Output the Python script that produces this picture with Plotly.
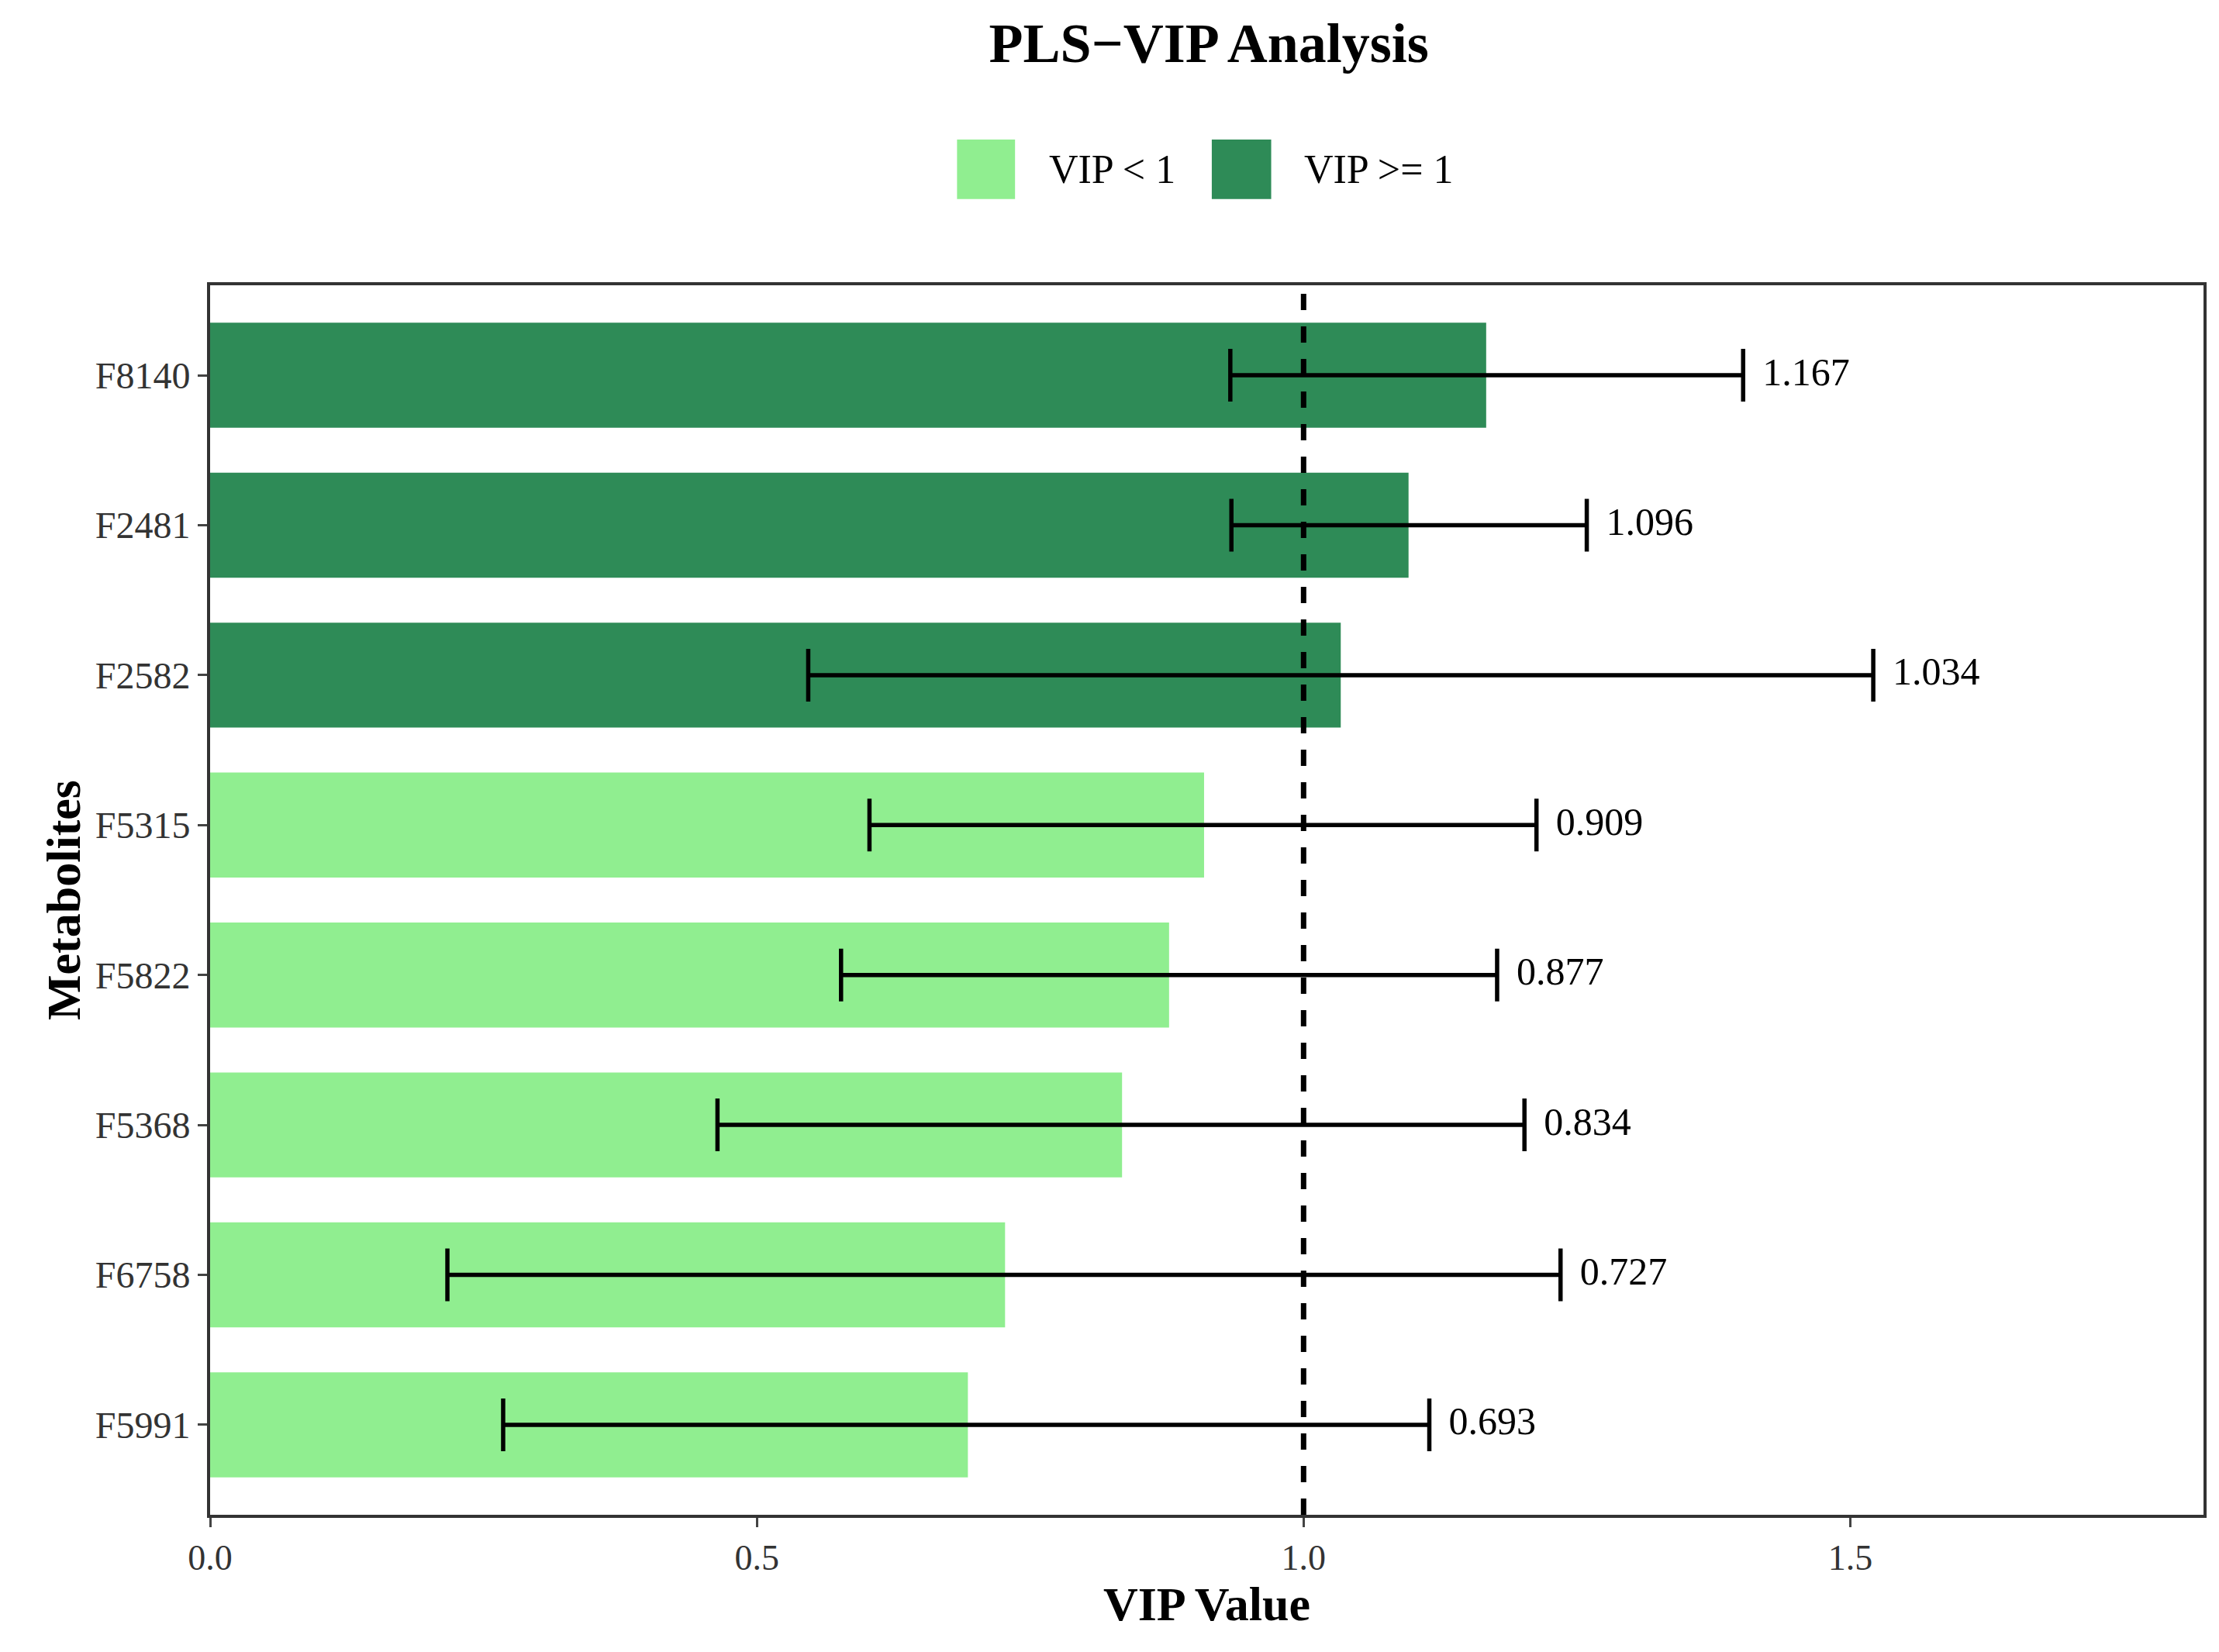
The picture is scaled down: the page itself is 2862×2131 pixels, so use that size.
import plotly.graph_objects as go

# data (top to bottom)
metabolites = ["F8140", "F2481", "F2582", "F5315", "F5822", "F5368", "F6758", "F5991"]
vip = [1.167, 1.096, 1.034, 0.909, 0.877, 0.834, 0.727, 0.693]
vip_low = [0.933, 0.934, 0.547, 0.603, 0.577, 0.464, 0.217, 0.268]
vip_high = [1.402, 1.259, 1.521, 1.213, 1.177, 1.202, 1.235, 1.115]

LIGHT = "#90EE90"
DARK = "#2E8B57"
FONT = "Liberation Serif"

fig = go.Figure()
for name, color, keep in [("VIP < 1", LIGHT, lambda v: v < 1), ("VIP >= 1", DARK, lambda v: v >= 1)]:
    idx = [i for i, v in enumerate(vip) if keep(v)]
    fig.add_trace(go.Bar(
        y=[metabolites[i] for i in idx],
        x=[vip[i] for i in idx],
        orientation="h",
        name=name,
        marker=dict(color=color, line=dict(width=0)),
        width=0.7,
        showlegend=False,
        error_x=dict(
            type="data", symmetric=False,
            array=[vip_high[i] - vip[i] for i in idx],
            arrayminus=[vip[i] - vip_low[i] for i in idx],
            color="black", thickness=5.5, width=34,
        ),
    ))

# value labels to the right of the error bars
fig.add_trace(go.Scatter(
    y=metabolites, x=vip_high, mode="text",
    text=["  %.3f" % v for v in vip], textposition="middle right",
    textfont=dict(family=FONT, size=50, color="black"),
    showlegend=False, hoverinfo="skip",
))

fig.add_shape(type="line", x0=1, x1=1, y0=0, y1=1, yref="paper",
              line=dict(color="black", width=7, dash="dash"))

# legend drawn by hand (large keys as in the reference)
for (x0, x1, tx, label, color) in [(0.3747, 0.4038, 0.420, "VIP < 1", LIGHT),
                                   (0.5025, 0.5323, 0.548, "VIP >= 1", DARK)]:
    fig.add_shape(type="rect", xref="paper", yref="paper", x0=x0, x1=x1,
                  y0=1.0702, y1=1.1185, fillcolor=color, line=dict(width=0))
    fig.add_annotation(xref="paper", yref="paper", x=tx, y=1.094, text=label,
                       showarrow=False, xanchor="left", yanchor="middle",
                       font=dict(size=52, color="black"))

fig.update_layout(
    width=2862, height=2131,
    paper_bgcolor="white", plot_bgcolor="white",
    font=dict(family=FONT, size=50, color="black"),
    title=dict(text="<b>PLS\u2212VIP Analysis</b>", x=0.542, xanchor="center", y=0.99,
               yanchor="top", font=dict(size=72)),
    showlegend=False,
    margin=dict(l=263, r=28, t=360, b=185),
    xaxis=dict(range=[0, 1.823], tickvals=[0, 0.5, 1.0, 1.5], tickformat=".1f",
               showgrid=False, zeroline=False, showline=True, mirror=True,
               linecolor="#333", linewidth=4, ticks="outside", ticklen=12, tickwidth=3,
               tickfont=dict(size=46, color="#333"),
               title=dict(text="<b>VIP Value</b>", font=dict(size=62), standoff=8)),
    yaxis=dict(categoryorder="array", categoryarray=metabolites[::-1], range=[-0.6, 7.6],
               showgrid=False, zeroline=False, showline=True, mirror=True,
               linecolor="#333", linewidth=4, ticks="outside", ticklen=12, tickwidth=3,
               tickfont=dict(size=48, color="#333"),
               title=dict(text="<b>Metabolites</b>", font=dict(size=62), standoff=0)),
)

fig.write_html("out.html")
